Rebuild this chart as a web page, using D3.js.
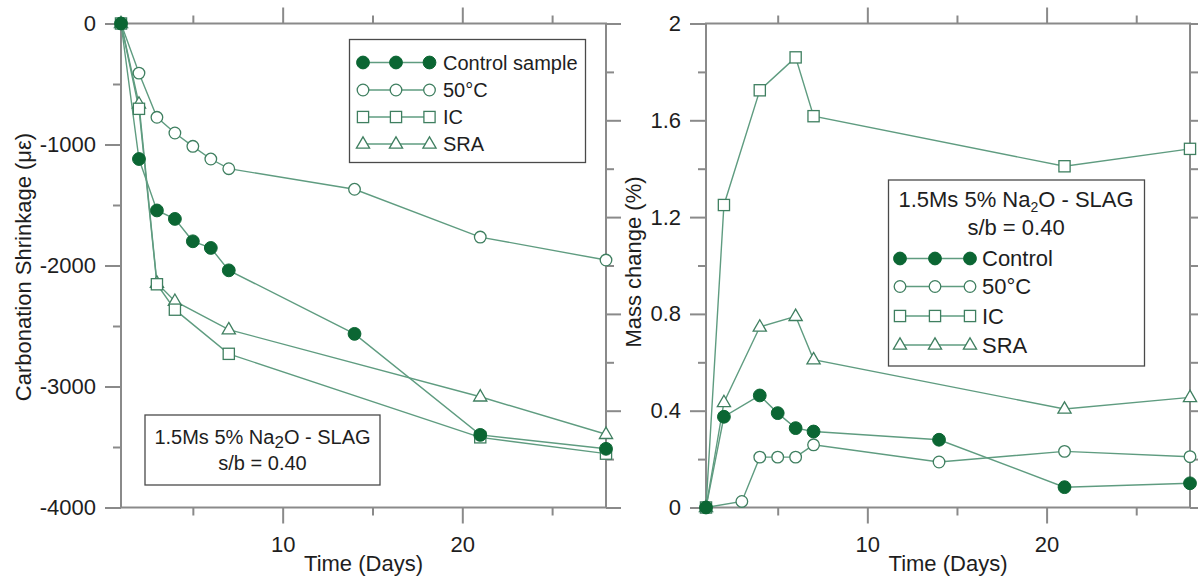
<!DOCTYPE html>
<html>
<head>
<meta charset="utf-8">
<script src="https://cdn.jsdelivr.net/npm/d3@7"></script>
<style>
  html, body { margin: 0; padding: 0; background: #fff; }
  svg { display: block; font-family: "Liberation Sans", Arial, sans-serif; }
</style>
</head>
<body>
<svg id="chart" width="1198" height="584"></svg>
<script>
// ---- Carbonation shrinkage (left panel) ----
const shrinkDaysA = [1, 2, 3, 4, 5, 6, 7, 14, 21, 28];
const shrinkControl = [0, -1120, -1545, -1615, -1800, -1855, -2040, -2565, -3400, -3515];
const shrink50C = [0, -410, -775, -905, -1015, -1120, -1200, -1370, -1765, -1955];
const shrinkDaysB = [1, 2, 3, 4, 7, 21, 28];
const shrinkIC = [0, -705, -2155, -2365, -2730, -3420, -3555];
const shrinkSRA = [0, -665, -2145, -2295, -2530, -3085, -3395];

// ---- Mass change (right panel) ----
const massDaysControl = [1, 2, 4, 5, 6, 7, 14, 21, 28];
const massControl = [0, 0.375, 0.463, 0.39, 0.328, 0.314, 0.28, 0.084, 0.1];
const massDays50C = [1, 3, 4, 5, 6, 7, 14, 21, 28];
const mass50C = [0, 0.025, 0.208, 0.208, 0.208, 0.259, 0.188, 0.232, 0.21];
const massDaysB = [1, 2, 4, 6, 7, 21, 28];
const massIC = [0, 1.25, 1.724, 1.86, 1.617, 1.41, 1.482];
const massSRA = [0, 0.434, 0.746, 0.79, 0.611, 0.407, 0.455];

// ---- Ticks and labels ----
const timeMajor = [10, 20];
const timeMinor = [5, 15, 25];
const shrinkMajor = [0, -1000, -2000, -3000, -4000];
const shrinkMinor = [-500, -1500, -2500, -3500];
const massMajor = [0, 0.4, 0.8, 1.2, 1.6, 2];
const massMinor = [0.2, 0.6, 1.0, 1.4, 1.8];
const leftLegendNames = ["Control sample", "50°C", "IC", "SRA"];
const rightLegendNames = ["Control", "50°C", "IC", "SRA"];

const AXIS = "#8a8a8a";
const LINE = "#5f9c80";
const EDGE = "#3f7f60";
const FILL = "#0b6633";
const TEXT = "#1e1e1e";

const svg = d3.select("#chart");

// Panel geometry
const L = { x0: 121, x1: 606, y0: 23.5, y1: 507.5 };
const R = { x0: 706, x1: 1190, y0: 23.5, y1: 507.5 };

const xL = d3.scaleLinear().domain([1, 28]).range([L.x0, L.x1]);
const yL = d3.scaleLinear().domain([-4000, 0]).range([L.y1, L.y0]);
const yLmirror = d3.scaleLinear().domain([0, 2]).range([L.y1, L.y0]);
const xR = d3.scaleLinear().domain([1, 28]).range([R.x0, R.x1]);
const yR = d3.scaleLinear().domain([0, 2]).range([R.y1, R.y0]);

function styleAxis(g) {
  g.select(".domain").remove();
  g.selectAll(".tick line").attr("stroke", AXIS).attr("stroke-width", 2);
  g.selectAll(".tick text").attr("fill", TEXT).attr("font-size", 22)
    .attr("font-family", "'Liberation Sans', Arial, sans-serif");
}

function addAxis(axis, tx, ty) {
  svg.append("g").attr("transform", `translate(${tx},${ty})`).call(axis).call(styleAxis);
}

function frame(P, xs, ys, ysMirror, yMajor, yMinor, yFmt) {
  // bottom
  addAxis(d3.axisBottom(xs).tickValues(timeMajor).tickSize(16).tickPadding(13).tickFormat(d => String(d)), 0, P.y1);
  addAxis(d3.axisBottom(xs).tickValues(timeMinor).tickSize(8).tickFormat(""), 0, P.y1);
  // top
  addAxis(d3.axisTop(xs).tickValues(timeMajor).tickSize(16).tickFormat(""), 0, P.y0);
  addAxis(d3.axisTop(xs).tickValues(timeMinor).tickSize(8).tickFormat(""), 0, P.y0);
  // left
  addAxis(d3.axisLeft(ys).tickValues(yMajor).tickSize(16).tickPadding(9).tickFormat(yFmt), P.x0, 0);
  addAxis(d3.axisLeft(ys).tickValues(yMinor).tickSize(8).tickFormat(""), P.x0, 0);
  // right
  addAxis(d3.axisRight(ysMirror).tickValues(massMajor).tickSize(15).tickFormat(""), P.x1, 0);
  addAxis(d3.axisRight(ysMirror).tickValues(massMinor).tickSize(8).tickFormat(""), P.x1, 0);
  svg.append("rect")
    .attr("x", P.x0).attr("y", P.y0)
    .attr("width", P.x1 - P.x0).attr("height", P.y1 - P.y0)
    .attr("fill", "none").attr("stroke", AXIS).attr("stroke-width", 2);
}

frame(L, xL, yL, yLmirror, shrinkMajor, shrinkMinor, d => String(d));
frame(R, xR, yR, yR, massMajor, massMinor, d => String(d));

// Axis titles
svg.append("text").attr("transform", "translate(31,267) rotate(-90)")
  .attr("text-anchor", "middle").attr("font-size", 22).attr("fill", TEXT)
  .text("Carbonation Shrinkage (με)");
svg.append("text").attr("transform", "translate(641,262) rotate(-90)")
  .attr("text-anchor", "middle").attr("font-size", 22).attr("fill", TEXT)
  .text("Mass change (%)");
svg.append("text").attr("x", (L.x0 + L.x1) / 2).attr("y", 571)
  .attr("text-anchor", "middle").attr("font-size", 22).attr("fill", TEXT).text("Time (Days)");
svg.append("text").attr("x", (R.x0 + R.x1) / 2).attr("y", 571)
  .attr("text-anchor", "middle").attr("font-size", 22).attr("fill", TEXT).text("Time (Days)");

// Marker shapes
const shapes = {
  filled: g => g.append("circle").attr("r", 6.4).attr("fill", FILL).attr("stroke", FILL).attr("stroke-width", 1),
  circle: g => g.append("circle").attr("r", 5.8).attr("fill", "#fff").attr("stroke", EDGE).attr("stroke-width", 1.3),
  square: g => g.append("rect").attr("x", -5.6).attr("y", -5.6).attr("width", 11.2).attr("height", 11.2)
    .attr("fill", "#fff").attr("stroke", EDGE).attr("stroke-width", 1.3),
  triangle: g => g.append("path").attr("d", "M0,-7.2L6.6,4.2L-6.6,4.2Z")
    .attr("fill", "#fff").attr("stroke", EDGE).attr("stroke-width", 1.3)
};

function drawSeries(xs, ys, days, vals, shape) {
  const pts = d3.zip(days, vals);
  svg.append("path").datum(pts)
    .attr("d", d3.line().x(d => xs(d[0])).y(d => ys(d[1])))
    .attr("fill", "none").attr("stroke", LINE).attr("stroke-width", 1.4);
  return () => {
    pts.forEach(d => {
      const g = svg.append("g").attr("transform", `translate(${xs(d[0])},${ys(d[1])})`);
      shapes[shape](g);
    });
  };
}

// Left panel series
const leftMarks = [
  drawSeries(xL, yL, shrinkDaysB, shrinkSRA, "triangle"),
  drawSeries(xL, yL, shrinkDaysB, shrinkIC, "square"),
  drawSeries(xL, yL, shrinkDaysA, shrink50C, "circle"),
  drawSeries(xL, yL, shrinkDaysA, shrinkControl, "filled")
];
leftMarks.forEach(f => f());

// Right panel series
const rightMarks = [
  drawSeries(xR, yR, massDaysB, massIC, "square"),
  drawSeries(xR, yR, massDaysB, massSRA, "triangle"),
  drawSeries(xR, yR, massDays50C, mass50C, "circle"),
  drawSeries(xR, yR, massDaysControl, massControl, "filled")
];
rightMarks.forEach(f => f());

// Legends
const legendShapes = ["filled", "circle", "square", "triangle"];

function legendRows(names, rowYs, mx, textX, size) {
  names.forEach((name, i) => {
    const y = rowYs[i];
    svg.append("line").attr("x1", mx[0]).attr("x2", mx[2]).attr("y1", y).attr("y2", y)
      .attr("stroke", LINE).attr("stroke-width", 1.4);
    mx.forEach(x => shapes[legendShapes[i]](svg.append("g").attr("transform", `translate(${x},${y})`)));
    svg.append("text").attr("x", textX).attr("y", y + size * 0.36).attr("font-size", size)
      .attr("fill", TEXT).text(name);
  });
}

function boxed(x0, y0, x1, y1) {
  svg.append("rect").attr("x", x0).attr("y", y0).attr("width", x1 - x0).attr("height", y1 - y0)
    .attr("fill", "#fff").attr("stroke", "#4a4a4a").attr("stroke-width", 1.3);
}

function mixLabel(cx, y, size, subSize, subShift) {
  const t = svg.append("text").attr("x", cx).attr("y", y).attr("text-anchor", "middle")
    .attr("font-size", size).attr("fill", TEXT);
  t.append("tspan").text("1.5Ms 5% Na");
  t.append("tspan").attr("font-size", subSize).attr("dy", subShift).text("2");
  t.append("tspan").attr("dy", -subShift).text("O - SLAG");
}

// Left legend
boxed(349.5, 39.5, 585.5, 162.5);
legendRows(leftLegendNames, [62.5, 90, 117, 144], [363, 396, 429.5], 443, 20);

// Left mix note
boxed(145, 415, 380, 485);
mixLabel(262.5, 444, 20, 17, 4);
svg.append("text").attr("x", 262.5).attr("y", 470).attr("text-anchor", "middle")
  .attr("font-size", 20).attr("fill", TEXT).text("s/b = 0.40");

// Right legend with mix note
boxed(888.5, 180, 1144.5, 366);
mixLabel(1016, 207, 22, 14, 5);
svg.append("text").attr("x", 1016).attr("y", 235).attr("text-anchor", "middle")
  .attr("font-size", 22).attr("fill", TEXT).text("s/b = 0.40");
legendRows(rightLegendNames, [258.5, 286.5, 316, 345], [900, 935, 970], 982, 22);
</script>
</body>
</html>
